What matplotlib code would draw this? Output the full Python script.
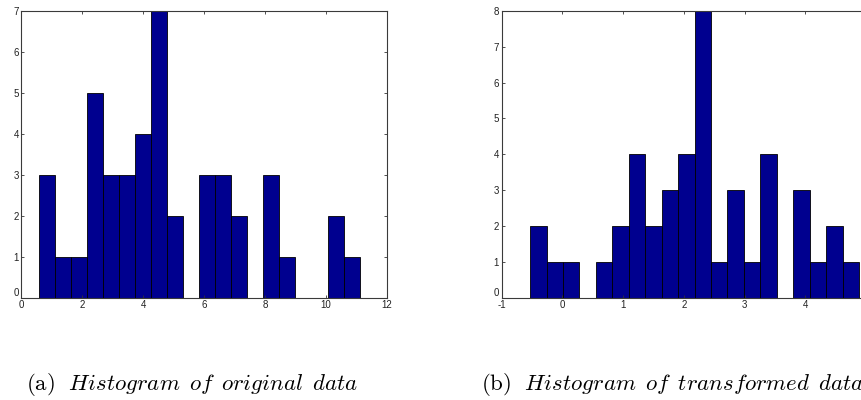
import numpy as np
import matplotlib
matplotlib.use('Agg')
import matplotlib.pyplot as plt

plt.rcParams['mathtext.fontset'] = 'cm'
plt.rcParams['font.family'] = ['Liberation Sans', 'DejaVu Sans']
plt.rcParams['axes.unicode_minus'] = False

# histogram of original data: 20 bins
orig_range = (0.57, 11.10)
orig_counts = [3, 1, 1, 5, 3, 3, 4, 7, 2, 0, 3, 3, 2, 0, 3, 1, 0, 0, 2, 1]

# histogram of transformed data: 20 bins
trans_range = (-0.533, 4.885)
trans_counts = [2, 1, 1, 0, 1, 2, 4, 2, 3, 4, 8, 1, 3, 1, 4, 0, 3, 1, 2, 1]

captions = [r'$\mathrm{(a)}\ \ \mathit{Histogram\ \,of\ \,original\ \,data}$',
            r'$\mathrm{(b)}\ \ \mathit{Histogram\ \,of\ \,transformed\ \,data}$']

bar_color = '#00008F'
W, H = 862, 400

fig = plt.figure(figsize=(W / 100, H / 100), dpi=100)


def matlab_hist(ax, rng, counts, xlim, ylim):
    edges = np.linspace(rng[0], rng[1], len(counts) + 1)
    ax.bar(edges[:-1], counts, width=np.diff(edges), align='edge',
           color=bar_color, edgecolor='black', linewidth=0.6)
    ax.set_xlim(*xlim)
    ax.set_ylim(*ylim)
    ax.set_yticks(range(ylim[0], ylim[1] + 1))
    ax.tick_params(direction='in', length=2.5, width=0.6, labelsize=7,
                   top=True, right=True, pad=2, colors='#333333',
                   labelcolor='#222222')
    # MATLAB lifts the bottom y label above the x axis
    ax.get_yticklabels()[0].set_va('bottom')
    for s in ax.spines.values():
        s.set_color('#3a3a3a')
        s.set_linewidth(0.8)


ax1 = fig.add_axes([21.5 / W, 102.5 / H, (387 - 21.5) / W, (297.5 - 11) / H])
ax1.set_xticks(range(0, 13, 2))
matlab_hist(ax1, orig_range, orig_counts, (0, 12), (0, 7))

ax2 = fig.add_axes([501.7 / W, 102.5 / H, (866 - 501.7) / W, (297.5 - 11) / H])
ax2.set_xticks(range(-1, 5))
matlab_hist(ax2, trans_range, trans_counts, (-1, 5), (0, 8))

fig.text(26 / W, 1 - 390 / H, captions[0], fontsize=16.5, va='baseline', ha='left')
fig.text(481 / W, 1 - 390 / H, captions[1], fontsize=16.5, va='baseline', ha='left')

fig.savefig('out.png', dpi=100)
